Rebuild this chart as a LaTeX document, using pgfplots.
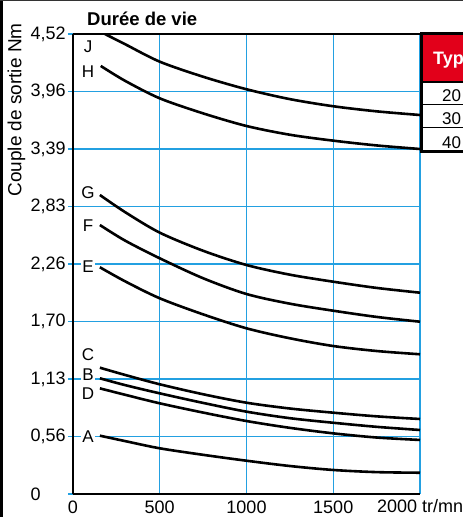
\documentclass[border=0pt]{standalone}
\usepackage{fontspec}
\setmainfont{Liberation Sans}
\usepackage{pgfplots}
\pgfplotsset{compat=1.18}
\definecolor{gridblue}{RGB}{35,160,225}
\definecolor{typred}{RGB}{226,0,26}

\begin{document}
\begin{tikzpicture}
\path[use as bounding box] (-73pt,-23pt) rectangle (390pt,494pt);
\clip (-73pt,-23pt) rectangle (390pt,494pt);
\begin{axis}[
    at={(0,0)}, anchor=south west,
    scale only axis,
    width=347pt, height=460pt,
    xmin=0, xmax=2000, ymin=0, ymax=4.52,
    axis lines=left,
    axis line style={-, line width=1.6pt, black},
    xtick={0,500,1000,1500,2000},
    xticklabels={0,500,1000,1500,},
    ytick={0,0.565,1.13,1.695,2.26,2.825,3.39,3.955,4.52},
    yticklabels={0,{0,56},{1,13},{1,70},{2,26},{2,83},{3,39},{3,96},{4,52}},
    grid=major,
    major grid style={gridblue, line width=1.3pt},
    xtick style={draw=none},
    ytick style={gridblue, line width=1.3pt},
    tick align=outside,
    major tick length=5pt,
    tick label style={font=\fontsize{18}{21}\selectfont},
    yticklabel style={anchor=west, xshift=-41pt},
    xticklabel style={yshift=2pt},
    /pgf/number format/assume math mode=true,
    clip mode=individual,
]
\pgfplotsset{curve/.style={black, line width=2.6pt, smooth, tension=0.5, no marks}}
% J
\addplot[curve] coordinates {(155,4.545) (300,4.42) (500,4.248) (750,4.10) (1000,3.977) (1250,3.88) (1500,3.81) (1750,3.76) (2000,3.724)};
% H
\addplot[curve] coordinates {(160,4.206) (300,4.06) (500,3.888) (750,3.74) (1000,3.616) (1250,3.53) (1500,3.472) (1750,3.425) (2000,3.39)};
% G
\addplot[curve] coordinates {(155,2.938) (300,2.77) (500,2.568) (750,2.39) (1000,2.25) (1250,2.155) (1500,2.086) (1750,2.025) (2000,1.978)};
% F
\addplot[curve] coordinates {(155,2.643) (300,2.49) (500,2.316) (750,2.12) (1000,1.965) (1250,1.87) (1500,1.801) (1750,1.74) (2000,1.693)};
% E
\addplot[curve] coordinates {(155,2.228) (300,2.09) (500,1.923) (750,1.765) (1000,1.628) (1250,1.53) (1500,1.454) (1750,1.405) (2000,1.373)};
% C
\addplot[curve] coordinates {(155,1.241) (300,1.17) (500,1.078) (750,0.98) (1000,0.897) (1250,0.84) (1500,0.799) (1750,0.763) (2000,0.737)};
% B
\addplot[curve] coordinates {(155,1.137) (300,1.07) (500,0.989) (750,0.895) (1000,0.809) (1250,0.745) (1500,0.70) (1750,0.66) (2000,0.629)};
% D
\addplot[curve] coordinates {(155,1.038) (300,0.975) (500,0.891) (750,0.80) (1000,0.717) (1250,0.65) (1500,0.596) (1750,0.555) (2000,0.531)};
% A
\addplot[curve] coordinates {(155,0.573) (300,0.52) (500,0.449) (750,0.385) (1000,0.327) (1250,0.275) (1500,0.236) (1750,0.215) (2000,0.209)};

\begin{scope}[every node/.style={font=\fontsize{17}{20}\selectfont, fill=white, inner sep=1pt}]
\node at (axis cs:87,4.392) {J};
\node at (axis cs:87,4.147) {H};
\node at (axis cs:87,2.958) {G};
\node at (axis cs:87,2.633) {F};
\node at (axis cs:87,2.23) {E};
\node at (axis cs:87,1.366) {C};
\node at (axis cs:87,1.169) {B};
\node at (axis cs:87,0.983) {D};
\node at (axis cs:87,0.56) {A};
\end{scope}
\end{axis}
% top axis line
\draw[line width=1.6pt] (0,460pt) -- (347pt,460pt);
% title and labels
\node[anchor=base west, inner sep=0, font=\fontsize{18.5}{21}\selectfont\bfseries] at (14pt,468pt) {Durée de vie};
\node[rotate=90, inner sep=0, font=\fontsize{19}{22}\selectfont] at (-56.5pt,384pt) {Couple de sortie Nm};
\node[anchor=north west, inner sep=0, font=\fontsize{18}{21}\selectfont] at (304pt,-5pt) {2000 tr/mn};
% table
\fill[white] (347pt,342pt) rectangle (400pt,460pt);
\fill[typred] (347pt,412pt) rectangle (400pt,460pt);
\draw[line width=1pt] (347pt,389pt) -- (400pt,389pt);
\draw[line width=1pt] (347pt,366pt) -- (400pt,366pt);
\draw[line width=1.2pt] (347pt,412pt) -- (400pt,412pt);
\draw[line width=3pt] (400pt,460pt) -- (348.5pt,460pt) -- (348.5pt,342pt) -- (400pt,342pt);
\node[anchor=base west, inner sep=0, text=white, font=\fontsize{18}{21}\selectfont\bfseries] at (360pt,429pt) {Type};
\begin{scope}[every node/.style={anchor=base west, inner sep=0, font=\fontsize{17}{20}\selectfont}]
\node at (369pt,392pt) {20};
\node at (369pt,369pt) {30};
\node at (369pt,345pt) {40};
\end{scope}
% frame
\fill[black] (-73pt,-23pt) rectangle (-69.5pt,494pt);
\draw[line width=1pt, black!80] (-73pt,493.5pt) -- (390pt,493.5pt);
\end{tikzpicture}
\end{document}
